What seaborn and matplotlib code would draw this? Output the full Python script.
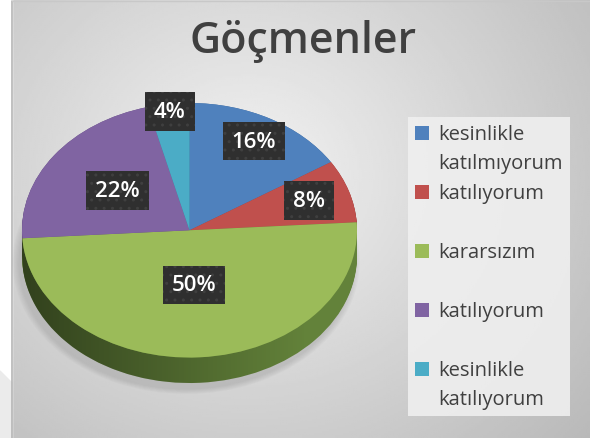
import numpy as np
import pandas as pd
import matplotlib.pyplot as plt
import seaborn as sns
from matplotlib.patches import Rectangle, Polygon, PathPatch
from matplotlib.path import Path
from matplotlib.legend_handler import HandlerPatch

# Tema sade, fontu temadan sonra ayarla
sns.set_theme(style="white")
plt.rcParams['font.family'] = ['Open Sans', 'DejaVu Sans']

# Veriler
baslik = "Göçmenler"
kategoriler = ["kesinlikle\nkatılmıyorum", "katılıyorum", "kararsızım",
               "katılıyorum", "kesinlikle\nkatılıyorum"]
oranlar = [16, 8, 50, 22, 4]
renkler = ["#4F81BD", "#C0504D", "#9BBB59", "#8064A2", "#4BACC6"]
yan_renkler = ["#3b6596", "#963e3b", "#63823a", "#634e7e", "#3a869b"]

df = pd.DataFrame({"kategori": kategoriler, "oran": oranlar,
                   "renk": renkler, "yan": yan_renkler})

W, H = 590, 439
fig = plt.figure(figsize=(W / 100, H / 100), dpi=100)

# Arka plan: ortasi acik, kenarlari koyu gri gecis
bg = fig.add_axes([0, 0, 1, 1], zorder=-10)
yy, xx = np.mgrid[0:1:220j, 0:1:300j]
uzak = np.sqrt(((xx - 0.42) / 0.75) ** 2 + ((yy - 0.6) / 0.9) ** 2)
bg.imshow(0.95 - 0.22 * uzak, cmap="gray", vmin=0, vmax=1,
          extent=[0, 1, 0, 1], aspect="auto", origin="lower")
bg.add_patch(Rectangle((0, 0), 12 / W, 1, color="white"))
bg.add_patch(Polygon([(0, 1 - 372 / H), (12 / W, 1 - 384 / H), (12 / W, 0), (0, 0)],
                     closed=True, color="#ebebeb"))
bg.plot([12 / W, 12 / W], [0, 1 - 2 / H], color="#b5b5b5", lw=1.2)
bg.plot([12 / W, 1], [1 - 2 / H, 1 - 2 / H], color="#c8c8c8", lw=1)
bg.set_xlim(0, 1)
bg.set_ylim(0, 1)
bg.axis("off")

# Pasta alani (egik 3B gorunum)
kalinlik = 0.2
ax = fig.add_axes([22 / W, 55 / H, 335 / W, 280 / H])

# golge
for s in np.linspace(0.0, 0.12, 6):
    ax.pie([1], colors=["#8a8a8a"], radius=1 + s * 0.3, center=(-0.02, -kalinlik - 0.05),
           wedgeprops=dict(linewidth=0, alpha=0.06))

# yan yuzey: asagidan yukari ust uste katmanlar
for ofset in np.linspace(-kalinlik, 0, 25):
    ax.pie(df["oran"], colors=df["yan"], startangle=90, counterclock=False,
           center=(0, ofset), wedgeprops=dict(linewidth=0))

# yan yuzeye soldan saga koyu-acik gecis (siyah, saydamligi azalan)
xs = np.linspace(-1, 1, 300)
ust = -np.sqrt(1 - xs ** 2)
band = np.column_stack([np.r_[xs, xs[::-1]], np.r_[ust, ust[::-1] - kalinlik]])
bant_yolu = PathPatch(Path(band), transform=ax.transData, fc="none", ec="none")
ax.add_patch(bant_yolu)
gx = np.linspace(0, 1, 200)
katman = np.zeros((1, 200, 4))
katman[0, :, 3] = np.clip(0.5 * (1 - gx / 0.85), 0, 1)
golgelik = ax.imshow(katman, extent=[-1, 1, -1 - kalinlik, 0], aspect="auto",
                     zorder=1.5)
golgelik.set_clip_path(bant_yolu)

# ust yuzey
dilimler, _, yuzdeler = ax.pie(
    df["oran"], colors=df["renk"], startangle=90, counterclock=False,
    autopct="%1.0f%%", pctdistance=0.7,
    wedgeprops=dict(linewidth=0, zorder=2),
    textprops=dict(color="white", fontsize=16, fontweight="semibold"))

# Etiketlerin dilim icindeki uzakliklari (Excel yerlesimine gore)
etiket_uzaklik = [0.80, 0.75, 0.43, 0.53, 0.94]
for w, t, r in zip(dilimler, yuzdeler, etiket_uzaklik):
    aci = np.deg2rad((w.theta1 + w.theta2) / 2)
    t.set_position((r * np.cos(aci), r * np.sin(aci)))
    t.set_bbox(dict(boxstyle="square,pad=0.4", fc="#2f2f2f", ec="#3f3f3f",
                    lw=0, hatch=".."))
    t.set_zorder(20)

ax.set_aspect("auto")
ax.set_xlim(-1, 1)
ax.set_ylim(-1 - kalinlik, 1)
ax.axis("off")

fig.text(303 / W, 1 - 53 / H, baslik, ha="center", va="baseline",
         fontsize=31, color="#404040", fontweight="semibold")


# Lejant: kareler ilk satira hizali, her kayit ayni yukseklikte
def kare(legend, orig_handle, xdescent, ydescent, width, height, fontsize):
    return Rectangle((-xdescent, -ydescent + 0.8 * fontsize), width, height)


etiketler = [k if "\n" in k else k + "\n" for k in df["kategori"]]
leg = fig.legend(dilimler, etiketler, loc="upper left",
                 bbox_to_anchor=(398 / W, 1 - 108 / H),
                 frameon=True, fontsize=14.5, labelspacing=0.5,
                 handlelength=0.7, handleheight=0.7, handletextpad=0.45,
                 borderpad=0.35, fancybox=False, labelcolor="#404040",
                 handler_map={type(dilimler[0]): HandlerPatch(patch_func=kare)})
for t in leg.get_texts():
    t.set_linespacing(1.6)
leg.get_frame().set_facecolor("#efefef")
leg.get_frame().set_edgecolor("none")
leg.get_frame().set_alpha(0.9)

plt.savefig("out.png", dpi=100)
